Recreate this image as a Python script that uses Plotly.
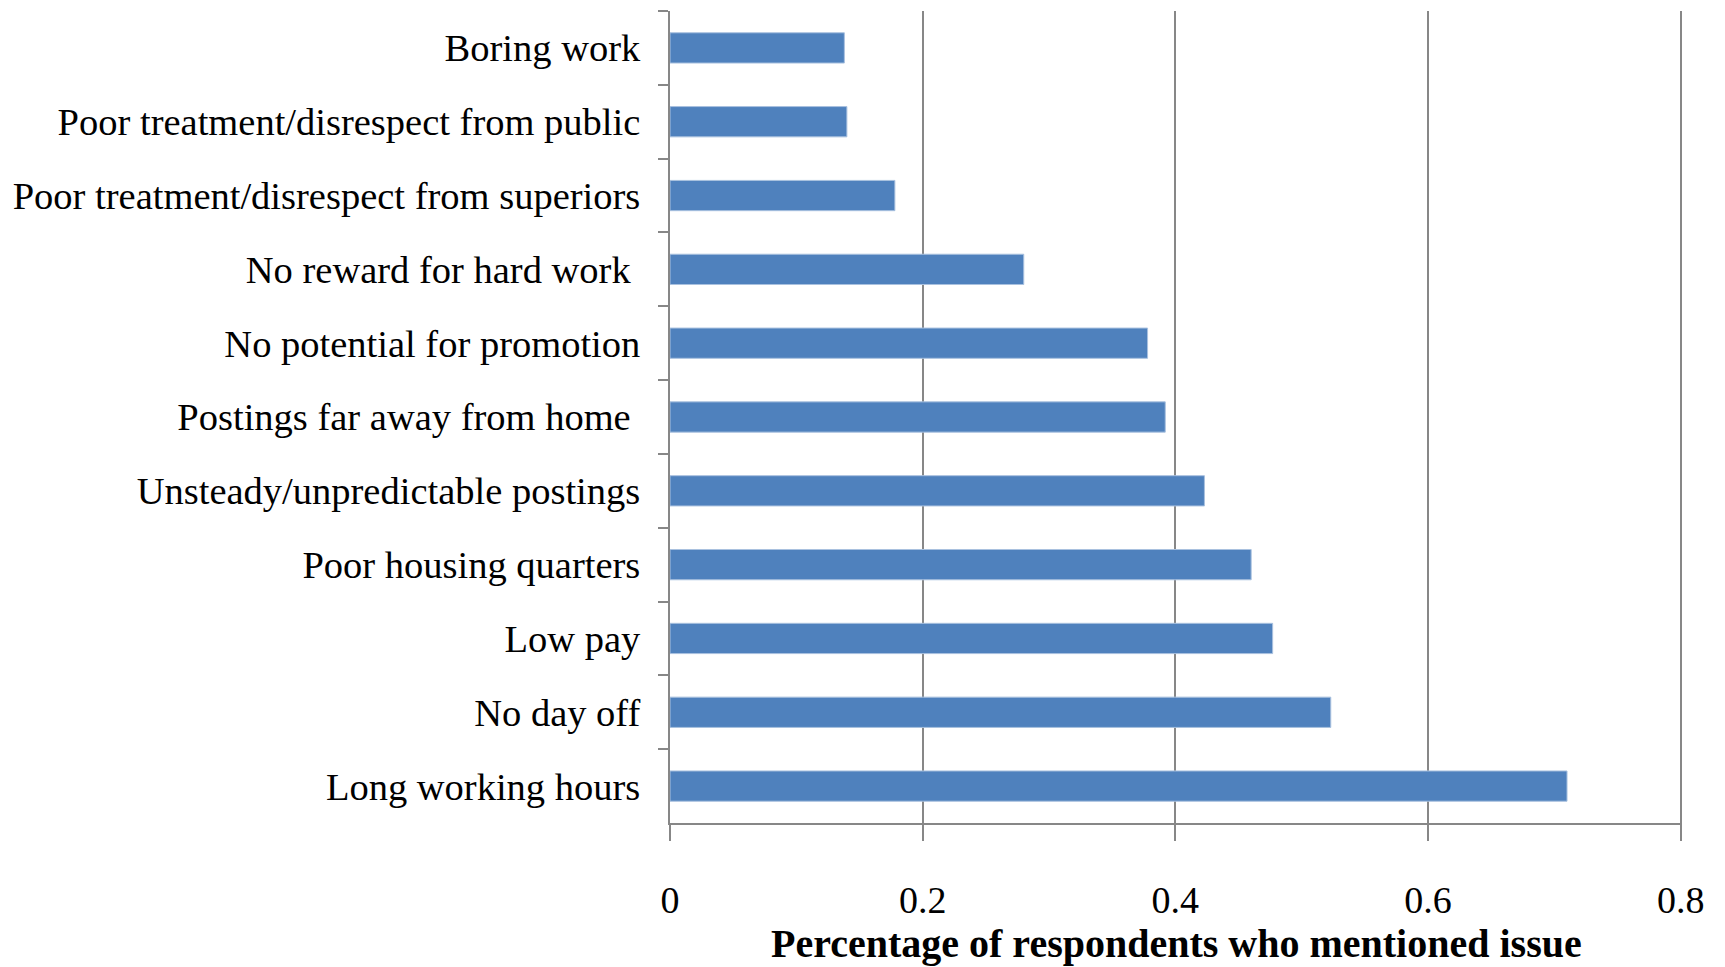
import plotly.graph_objects as go

# Reasons for job dissatisfaction, listed top to bottom as drawn
issues = [
    "Boring work",
    "Poor treatment/disrespect from public",
    "Poor treatment/disrespect from superiors",
    "No reward for hard work ",
    "No potential for promotion",
    "Postings far away from home ",
    "Unsteady/unpredictable postings",
    "Poor housing quarters",
    "Low pay",
    "No day off",
    "Long working hours",
]
share_mentioned = [0.138, 0.140, 0.178, 0.280, 0.378, 0.392, 0.423, 0.460, 0.477, 0.523, 0.710]

x_ticks = [0, 0.2, 0.4, 0.6, 0.8]
x_tick_text = ["0", "0.2", "0.4", "0.6", "0.8"]
x_title = "Percentage of respondents who mentioned issue"

GRAY = "#878787"
BLUE = "#4F81BD"
FONT = "Liberation Serif"

fig = go.Figure(
    go.Bar(
        x=share_mentioned,
        y=issues,
        orientation="h",
        marker=dict(color=BLUE, line=dict(color="#A9C1DF", width=1)),
        hoverinfo="x+y",
    )
)

fig.update_layout(
    width=1725,
    height=967,
    margin=dict(l=670, r=43, t=11, b=144, autoexpand=False),
    paper_bgcolor="white",
    plot_bgcolor="white",
    bargap=0.59,
    showlegend=False,
    font=dict(family=FONT, size=38, color="black"),
)

fig.update_xaxes(
    # a hair past 0.8 so the last gridline is still drawn at the edge
    range=[0, 0.801],
    automargin=False,
    tickvals=x_ticks,
    ticktext=x_tick_text,
    showgrid=True,
    gridcolor=GRAY,
    gridwidth=2,
    zeroline=False,
    showline=True,
    linecolor=GRAY,
    linewidth=2,
    ticks="outside",
    ticklen=16,
    tickwidth=2,
    tickcolor=GRAY,
    ticklabelstandoff=26,
    tickfont=dict(family=FONT, size=38, color="black"),
)

fig.update_yaxes(
    type="category",
    autorange="reversed",
    automargin=False,
    showgrid=False,
    zeroline=False,
    showline=True,
    linecolor=GRAY,
    linewidth=2,
    ticks="outside",
    tickson="boundaries",
    ticklen=10,
    tickwidth=2,
    tickcolor=GRAY,
    ticklabelstandoff=20,
    tickfont=dict(family=FONT, size=38.5, color="black"),
)

# Axis title placed below the tick labels, centred on the plot area
fig.add_annotation(
    text=f"<b>{x_title}</b>",
    xref="paper", yref="paper",
    x=0.5, y=0,
    xanchor="center", yanchor="middle",
    yshift=-120,
    showarrow=False,
    font=dict(family=FONT, size=40, color="black"),
)

fig.write_html("out.html")
